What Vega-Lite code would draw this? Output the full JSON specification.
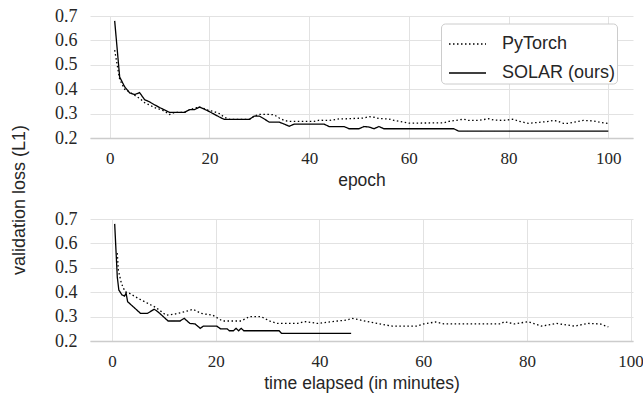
{
  "$schema": "https://vega.github.io/schema/vega-lite/v6.json",
  "background": "white",
  "padding": {"left": 10, "top": 7, "right": 5, "bottom": 5},
  "spacing": 81,
  "bounds": "flush",
  "config": {
    "view": {"stroke": null},
    "axis": {
      "labelFont": "Liberation Serif",
      "labelFontSize": 18,
      "labelColor": "#262626",
      "titleFont": "Liberation Sans",
      "titleFontSize": 17.5,
      "titleFontWeight": "normal",
      "titleColor": "#262626",
      "gridColor": "#e2e2e2",
      "gridWidth": 1,
      "ticks": false,
      "domain": false
    },
    "axisX": {"labelFontSize": 17}
  },
  "datasets": {
    "top": [
      {"series": "PyTorch", "epoch": 1, "loss": 0.56},
      {"series": "PyTorch", "epoch": 2, "loss": 0.44},
      {"series": "PyTorch", "epoch": 3, "loss": 0.4},
      {"series": "PyTorch", "epoch": 4, "loss": 0.388},
      {"series": "PyTorch", "epoch": 5, "loss": 0.375},
      {"series": "PyTorch", "epoch": 6, "loss": 0.362},
      {"series": "PyTorch", "epoch": 7, "loss": 0.345},
      {"series": "PyTorch", "epoch": 8, "loss": 0.335},
      {"series": "PyTorch", "epoch": 9, "loss": 0.325},
      {"series": "PyTorch", "epoch": 10, "loss": 0.318},
      {"series": "PyTorch", "epoch": 11, "loss": 0.31},
      {"series": "PyTorch", "epoch": 12, "loss": 0.296},
      {"series": "PyTorch", "epoch": 13, "loss": 0.305},
      {"series": "PyTorch", "epoch": 15, "loss": 0.305},
      {"series": "PyTorch", "epoch": 16, "loss": 0.316},
      {"series": "PyTorch", "epoch": 17, "loss": 0.322},
      {"series": "PyTorch", "epoch": 18, "loss": 0.327},
      {"series": "PyTorch", "epoch": 19, "loss": 0.32},
      {"series": "PyTorch", "epoch": 20, "loss": 0.312},
      {"series": "PyTorch", "epoch": 21, "loss": 0.308},
      {"series": "PyTorch", "epoch": 22, "loss": 0.3},
      {"series": "PyTorch", "epoch": 23, "loss": 0.285},
      {"series": "PyTorch", "epoch": 24, "loss": 0.276},
      {"series": "PyTorch", "epoch": 28, "loss": 0.276},
      {"series": "PyTorch", "epoch": 29, "loss": 0.29},
      {"series": "PyTorch", "epoch": 30, "loss": 0.297},
      {"series": "PyTorch", "epoch": 32, "loss": 0.297},
      {"series": "PyTorch", "epoch": 33, "loss": 0.295},
      {"series": "PyTorch", "epoch": 34, "loss": 0.282},
      {"series": "PyTorch", "epoch": 35, "loss": 0.272},
      {"series": "PyTorch", "epoch": 36, "loss": 0.268},
      {"series": "PyTorch", "epoch": 41, "loss": 0.268},
      {"series": "PyTorch", "epoch": 42, "loss": 0.273},
      {"series": "PyTorch", "epoch": 44, "loss": 0.272},
      {"series": "PyTorch", "epoch": 46, "loss": 0.278},
      {"series": "PyTorch", "epoch": 48, "loss": 0.279},
      {"series": "PyTorch", "epoch": 50, "loss": 0.281},
      {"series": "PyTorch", "epoch": 51, "loss": 0.282},
      {"series": "PyTorch", "epoch": 52, "loss": 0.288},
      {"series": "PyTorch", "epoch": 53, "loss": 0.285},
      {"series": "PyTorch", "epoch": 54, "loss": 0.28},
      {"series": "PyTorch", "epoch": 56, "loss": 0.278},
      {"series": "PyTorch", "epoch": 57, "loss": 0.272},
      {"series": "PyTorch", "epoch": 59, "loss": 0.265},
      {"series": "PyTorch", "epoch": 60, "loss": 0.261},
      {"series": "PyTorch", "epoch": 67, "loss": 0.262},
      {"series": "PyTorch", "epoch": 68, "loss": 0.268},
      {"series": "PyTorch", "epoch": 69, "loss": 0.271},
      {"series": "PyTorch", "epoch": 71, "loss": 0.277},
      {"series": "PyTorch", "epoch": 72, "loss": 0.272},
      {"series": "PyTorch", "epoch": 74, "loss": 0.272},
      {"series": "PyTorch", "epoch": 76, "loss": 0.279},
      {"series": "PyTorch", "epoch": 77, "loss": 0.274},
      {"series": "PyTorch", "epoch": 79, "loss": 0.272},
      {"series": "PyTorch", "epoch": 81, "loss": 0.277},
      {"series": "PyTorch", "epoch": 82, "loss": 0.269},
      {"series": "PyTorch", "epoch": 84, "loss": 0.26},
      {"series": "PyTorch", "epoch": 86, "loss": 0.264},
      {"series": "PyTorch", "epoch": 88, "loss": 0.268},
      {"series": "PyTorch", "epoch": 89, "loss": 0.272},
      {"series": "PyTorch", "epoch": 90, "loss": 0.268},
      {"series": "PyTorch", "epoch": 91, "loss": 0.26},
      {"series": "PyTorch", "epoch": 92, "loss": 0.26},
      {"series": "PyTorch", "epoch": 94, "loss": 0.268},
      {"series": "PyTorch", "epoch": 95, "loss": 0.272},
      {"series": "PyTorch", "epoch": 97, "loss": 0.27},
      {"series": "PyTorch", "epoch": 98, "loss": 0.266},
      {"series": "PyTorch", "epoch": 100, "loss": 0.259},
      {"series": "SOLAR (ours)", "epoch": 1, "loss": 0.68},
      {"series": "SOLAR (ours)", "epoch": 2, "loss": 0.45},
      {"series": "SOLAR (ours)", "epoch": 3, "loss": 0.41},
      {"series": "SOLAR (ours)", "epoch": 4, "loss": 0.385},
      {"series": "SOLAR (ours)", "epoch": 5, "loss": 0.378},
      {"series": "SOLAR (ours)", "epoch": 6, "loss": 0.386},
      {"series": "SOLAR (ours)", "epoch": 7, "loss": 0.357},
      {"series": "SOLAR (ours)", "epoch": 8, "loss": 0.348},
      {"series": "SOLAR (ours)", "epoch": 9, "loss": 0.336},
      {"series": "SOLAR (ours)", "epoch": 10, "loss": 0.325},
      {"series": "SOLAR (ours)", "epoch": 11, "loss": 0.315},
      {"series": "SOLAR (ours)", "epoch": 12, "loss": 0.305},
      {"series": "SOLAR (ours)", "epoch": 15, "loss": 0.305},
      {"series": "SOLAR (ours)", "epoch": 16, "loss": 0.316},
      {"series": "SOLAR (ours)", "epoch": 17, "loss": 0.316},
      {"series": "SOLAR (ours)", "epoch": 18, "loss": 0.327},
      {"series": "SOLAR (ours)", "epoch": 19, "loss": 0.318},
      {"series": "SOLAR (ours)", "epoch": 20, "loss": 0.308},
      {"series": "SOLAR (ours)", "epoch": 21, "loss": 0.297},
      {"series": "SOLAR (ours)", "epoch": 22, "loss": 0.286},
      {"series": "SOLAR (ours)", "epoch": 23, "loss": 0.276},
      {"series": "SOLAR (ours)", "epoch": 28, "loss": 0.276},
      {"series": "SOLAR (ours)", "epoch": 29, "loss": 0.29},
      {"series": "SOLAR (ours)", "epoch": 30, "loss": 0.29},
      {"series": "SOLAR (ours)", "epoch": 31, "loss": 0.278},
      {"series": "SOLAR (ours)", "epoch": 32, "loss": 0.265},
      {"series": "SOLAR (ours)", "epoch": 34, "loss": 0.265},
      {"series": "SOLAR (ours)", "epoch": 35, "loss": 0.257},
      {"series": "SOLAR (ours)", "epoch": 36, "loss": 0.248},
      {"series": "SOLAR (ours)", "epoch": 37, "loss": 0.257},
      {"series": "SOLAR (ours)", "epoch": 43, "loss": 0.257},
      {"series": "SOLAR (ours)", "epoch": 44, "loss": 0.247},
      {"series": "SOLAR (ours)", "epoch": 47, "loss": 0.247},
      {"series": "SOLAR (ours)", "epoch": 48, "loss": 0.238},
      {"series": "SOLAR (ours)", "epoch": 50, "loss": 0.238},
      {"series": "SOLAR (ours)", "epoch": 51, "loss": 0.247},
      {"series": "SOLAR (ours)", "epoch": 52, "loss": 0.245},
      {"series": "SOLAR (ours)", "epoch": 53, "loss": 0.238},
      {"series": "SOLAR (ours)", "epoch": 54, "loss": 0.247},
      {"series": "SOLAR (ours)", "epoch": 55, "loss": 0.238},
      {"series": "SOLAR (ours)", "epoch": 69, "loss": 0.238},
      {"series": "SOLAR (ours)", "epoch": 70, "loss": 0.228},
      {"series": "SOLAR (ours)", "epoch": 100, "loss": 0.228}
    ],
    "bottom": [
      {"series": "PyTorch", "time": 1.0, "loss": 0.56},
      {"series": "PyTorch", "time": 1.2, "loss": 0.491},
      {"series": "PyTorch", "time": 1.8, "loss": 0.436},
      {"series": "PyTorch", "time": 2.5, "loss": 0.402},
      {"series": "PyTorch", "time": 3.4, "loss": 0.395},
      {"series": "PyTorch", "time": 5.0, "loss": 0.375},
      {"series": "PyTorch", "time": 6.9, "loss": 0.354},
      {"series": "PyTorch", "time": 8.2, "loss": 0.34},
      {"series": "PyTorch", "time": 9.1, "loss": 0.327},
      {"series": "PyTorch", "time": 10.4, "loss": 0.306},
      {"series": "PyTorch", "time": 12.0, "loss": 0.31},
      {"series": "PyTorch", "time": 14.0, "loss": 0.32},
      {"series": "PyTorch", "time": 15.6, "loss": 0.33},
      {"series": "PyTorch", "time": 17.2, "loss": 0.313},
      {"series": "PyTorch", "time": 19.4, "loss": 0.306},
      {"series": "PyTorch", "time": 21.3, "loss": 0.282},
      {"series": "PyTorch", "time": 24.9, "loss": 0.282},
      {"series": "PyTorch", "time": 26.5, "loss": 0.3},
      {"series": "PyTorch", "time": 28.7, "loss": 0.3},
      {"series": "PyTorch", "time": 30.6, "loss": 0.28},
      {"series": "PyTorch", "time": 31.9, "loss": 0.272},
      {"series": "PyTorch", "time": 35.8, "loss": 0.272},
      {"series": "PyTorch", "time": 37.1, "loss": 0.28},
      {"series": "PyTorch", "time": 39.6, "loss": 0.272},
      {"series": "PyTorch", "time": 43.5, "loss": 0.282},
      {"series": "PyTorch", "time": 45.3, "loss": 0.286},
      {"series": "PyTorch", "time": 46.2, "loss": 0.293},
      {"series": "PyTorch", "time": 50.4, "loss": 0.275},
      {"series": "PyTorch", "time": 54.0, "loss": 0.261},
      {"series": "PyTorch", "time": 58.8, "loss": 0.261},
      {"series": "PyTorch", "time": 60.1, "loss": 0.27},
      {"series": "PyTorch", "time": 62.4, "loss": 0.278},
      {"series": "PyTorch", "time": 64.0, "loss": 0.27},
      {"series": "PyTorch", "time": 75.0, "loss": 0.27},
      {"series": "PyTorch", "time": 75.6, "loss": 0.279},
      {"series": "PyTorch", "time": 77.6, "loss": 0.27},
      {"series": "PyTorch", "time": 80.2, "loss": 0.279},
      {"series": "PyTorch", "time": 82.8, "loss": 0.261},
      {"series": "PyTorch", "time": 85.7, "loss": 0.272},
      {"series": "PyTorch", "time": 89.2, "loss": 0.261},
      {"series": "PyTorch", "time": 91.8, "loss": 0.272},
      {"series": "PyTorch", "time": 94.1, "loss": 0.27},
      {"series": "PyTorch", "time": 95.7, "loss": 0.258},
      {"series": "SOLAR (ours)", "time": 0.5, "loss": 0.68},
      {"series": "SOLAR (ours)", "time": 1.0, "loss": 0.463},
      {"series": "SOLAR (ours)", "time": 1.3, "loss": 0.409},
      {"series": "SOLAR (ours)", "time": 1.9, "loss": 0.389},
      {"series": "SOLAR (ours)", "time": 2.4, "loss": 0.384},
      {"series": "SOLAR (ours)", "time": 2.7, "loss": 0.396},
      {"series": "SOLAR (ours)", "time": 3.0, "loss": 0.361},
      {"series": "SOLAR (ours)", "time": 4.2, "loss": 0.338},
      {"series": "SOLAR (ours)", "time": 5.5, "loss": 0.313},
      {"series": "SOLAR (ours)", "time": 6.8, "loss": 0.313},
      {"series": "SOLAR (ours)", "time": 8.1, "loss": 0.33},
      {"series": "SOLAR (ours)", "time": 8.5, "loss": 0.325},
      {"series": "SOLAR (ours)", "time": 9.2, "loss": 0.313},
      {"series": "SOLAR (ours)", "time": 10.8, "loss": 0.282},
      {"series": "SOLAR (ours)", "time": 13.1, "loss": 0.282},
      {"series": "SOLAR (ours)", "time": 13.9, "loss": 0.293},
      {"series": "SOLAR (ours)", "time": 15.0, "loss": 0.272},
      {"series": "SOLAR (ours)", "time": 16.0, "loss": 0.27},
      {"series": "SOLAR (ours)", "time": 17.0, "loss": 0.252},
      {"series": "SOLAR (ours)", "time": 17.6, "loss": 0.261},
      {"series": "SOLAR (ours)", "time": 20.2, "loss": 0.261},
      {"series": "SOLAR (ours)", "time": 20.9, "loss": 0.25},
      {"series": "SOLAR (ours)", "time": 22.2, "loss": 0.25},
      {"series": "SOLAR (ours)", "time": 22.6, "loss": 0.242},
      {"series": "SOLAR (ours)", "time": 23.4, "loss": 0.242},
      {"series": "SOLAR (ours)", "time": 23.9, "loss": 0.252},
      {"series": "SOLAR (ours)", "time": 24.4, "loss": 0.242},
      {"series": "SOLAR (ours)", "time": 24.9, "loss": 0.252},
      {"series": "SOLAR (ours)", "time": 25.4, "loss": 0.242},
      {"series": "SOLAR (ours)", "time": 32.2, "loss": 0.242},
      {"series": "SOLAR (ours)", "time": 32.7, "loss": 0.231},
      {"series": "SOLAR (ours)", "time": 46.1, "loss": 0.231}
    ]
  },
  "resolve": {"scale": {"strokeDash": "independent"}, "legend": {"strokeDash": "independent"}},
  "vconcat": [
    {
      "width": 543,
      "height": 122,
      "data": {"name": "top"},
      "mark": {"type": "line", "color": "black", "strokeWidth": 1.3},
      "encoding": {
        "x": {
          "field": "epoch", "type": "quantitative",
          "scale": {"domain": [-3.95, 104.95], "nice": false, "zero": false},
          "axis": {"values": [0, 20, 40, 60, 80, 100], "title": "epoch", "labelPadding": 12, "titlePadding": 5, "domain": true, "domainColor": "#cccccc", "domainWidth": 1.5}
        },
        "y": {
          "field": "loss", "type": "quantitative",
          "scale": {"domain": [0.2, 0.7], "nice": false, "zero": false},
          "axis": {"values": [0.2, 0.3, 0.4, 0.5, 0.6, 0.7], "format": ".1f", "title": "validation loss (L1)", "titleFontSize": 18, "labelPadding": 13, "titleX": -71, "titleY": 183.5, "titleAngle": 270, "titleAlign": "center", "titleBaseline": "middle"}
        },
        "strokeDash": {
          "field": "series", "type": "nominal",
          "scale": {"domain": ["PyTorch", "SOLAR (ours)"], "range": [[1.5, 2.5], [1, 0]]},
          "legend": {
            "title": null, "orient": "none", "legendX": 351, "legendY": 7.5,
            "symbolType": "stroke", "symbolSize": 1369, "symbolStrokeWidth": 1.3, "symbolStrokeColor": "black",
            "labelFont": "Liberation Sans", "labelFontSize": 18, "labelColor": "#262626", "labelOffset": 15,
            "padding": 1, "symbolOffset": 6, "rowPadding": -10,
            "fillColor": "white", "strokeColor": "#cccccc", "cornerRadius": 4
          }
        }
      }
    },
    {
      "width": 543,
      "height": 122,
      "data": {"name": "bottom"},
      "mark": {"type": "line", "color": "black", "strokeWidth": 1.3},
      "encoding": {
        "x": {
          "field": "time", "type": "quantitative",
          "scale": {"domain": [-4.26, 100.46], "nice": false, "zero": false},
          "axis": {"values": [0, 20, 40, 60, 80, 100], "title": "time elapsed (in minutes)", "labelPadding": 12, "titlePadding": 5, "domain": true, "domainColor": "#cccccc", "domainWidth": 1.5}
        },
        "y": {
          "field": "loss", "type": "quantitative",
          "scale": {"domain": [0.2, 0.7], "nice": false, "zero": false},
          "axis": {"values": [0.2, 0.3, 0.4, 0.5, 0.6, 0.7], "format": ".1f", "title": null, "labelPadding": 13}
        },
        "strokeDash": {
          "field": "series", "type": "nominal",
          "scale": {"domain": ["PyTorch", "SOLAR (ours)"], "range": [[1.5, 2.5], [1, 0]]},
          "legend": null
        }
      }
    }
  ]
}
